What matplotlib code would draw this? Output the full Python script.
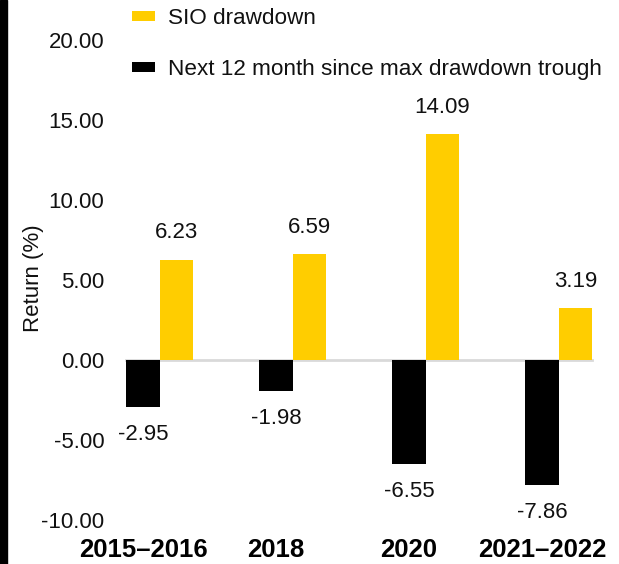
import matplotlib
matplotlib.use("Agg")
import matplotlib.pyplot as plt
from matplotlib.patches import Rectangle
import numpy as np

plt.rcParams['font.family'] = ['Liberation Sans', 'DejaVu Sans']

categories = ["2015\u20132016", "2018", "2020", "2021\u20132022"]
next12 = [-2.95, -1.98, -6.55, -7.86]
sio = [6.23, 6.59, 14.09, 3.19]
series_names = ["SIO drawdown", "Next 12 month since max drawdown trough"]
yticks = [-10, -5, 0, 5, 10, 15, 20]

W, H = 619, 564
fig = plt.figure(figsize=(W / 100, H / 100), dpi=100)
# plot area in pixels
left_px, right_px, top_px, bot_px = 112, 609.5, 39.5, 519.5
ax = fig.add_axes([left_px / W, 1 - bot_px / H, (right_px - left_px) / W, (bot_px - top_px) / H])

x = np.arange(len(categories))
unit = 133.0  # px per category
bw = 33.5 / unit
black_c = "#000000"
yellow_c = "#FFCD00"
b1 = ax.bar(x, next12, width=bw, color=black_c, label=series_names[1], zorder=3)
b2 = ax.bar(x + bw, sio, width=bw, color=yellow_c, label=series_names[0], zorder=3)

ax.set_xlim((left_px - 143) / unit, (right_px - 143) / unit)
ax.set_ylim(-10, 20)
ax.set_yticks(yticks)
ax.set_yticklabels([f"{v:.2f}" for v in yticks], fontsize=16, color="#111111")
ax.set_xticks(x)
ax.set_xticklabels(categories, fontsize=18.5, fontweight="bold")
ax.tick_params(axis="both", length=0)
ax.tick_params(axis="y", pad=5.5)
ax.tick_params(axis="x", pad=13.5)
for s in ax.spines.values():
    s.set_visible(False)

# zero line spanning from first bar edge to last bar edge
ax.plot([x[0] - bw / 2, x[-1] + bw * 1.5], [0, 0], color="#D9D9D9", lw=2, zorder=2)

fig.text(33 / W, 1 - 278 / H, "Return (%)", rotation=90, ha="center", va="center",
         fontsize=16, color="#111111")

for xi, v in zip(x, next12):
    ax.annotate(f"{v:.2f}", (xi, v), xytext=(0, -27.5), textcoords="offset pixels",
                ha="center", va="center", fontsize=16, color="#111111")
for xi, v in zip(x, sio):
    ax.annotate(f"{v:.2f}", (xi + bw, v), xytext=(0, 27), textcoords="offset pixels",
                ha="center", va="center", fontsize=16, color="#111111")

handles = [b2, b1]
leg = fig.legend(handles, series_names, loc="upper left",
                 bbox_to_anchor=(132 / W, 1 - 8 / H), frameon=False, fontsize=16.2,
                 borderpad=0, borderaxespad=0,
                 handlelength=1.03, handleheight=0.32, labelspacing=1.32, handletextpad=0.58)
for t in leg.get_texts():
    t.set_color("#111111")

fig.add_artist(Rectangle((0, 0), 7 / W, 1, transform=fig.transFigure, color="black"))

fig.savefig("out.png", dpi=100)
